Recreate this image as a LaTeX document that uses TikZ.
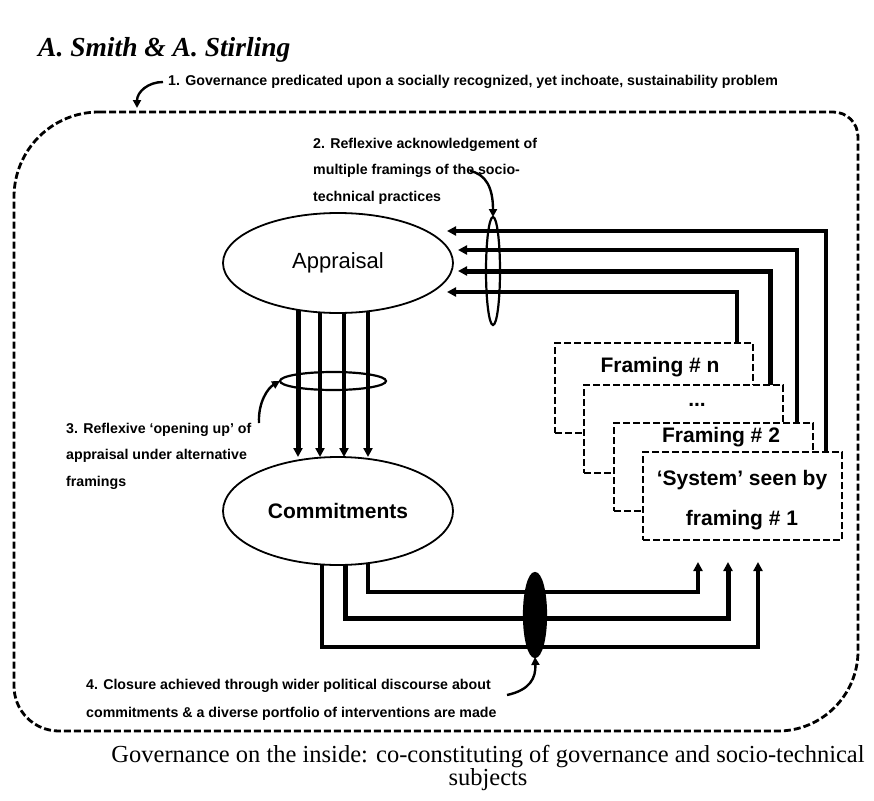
\documentclass[tikz,border=0pt]{standalone}
\usepackage{fontspec}
\setmainfont{Liberation Serif}
\setsansfont{Liberation Sans}
\usetikzlibrary{arrows.meta,shapes.geometric,calc}
\pgfdeclarelayer{bg}
\pgfsetlayers{bg,main}

\begin{document}
\begin{tikzpicture}[x=1pt,y=-1pt,
  conn/.style={line width=3.2pt,-{Triangle[width=9pt,length=9pt]}},
  link/.style={line width=3.2pt},
  heavy/.style={line width=5pt},
  frame/.style={line width=2.8pt,dash pattern=on 7pt off 3pt},
  framebox/.style={draw,fill=white,rectangle,line width=2.6pt,dash pattern=on 7pt off 3pt,
    anchor=north west,inner sep=0pt,outer sep=0pt},
  hub/.style={draw,fill=white,ellipse,line width=1.8pt,inner sep=0pt,outer sep=0pt,
    minimum width=230pt},
  ring/.style={draw,ellipse,line width=2.2pt,inner sep=0pt,outer sep=0pt},
  pointer/.style={line width=2.4pt,-{Triangle[width=8pt,length=8pt]}},
  note/.style={font=\sffamily\bfseries\fontsize{14.2}{26.5}\selectfont,align=left,inner sep=0pt},
  boxtext/.style={font=\sffamily\bfseries\fontsize{21}{24}\selectfont,inner sep=0pt},
]
\useasboundingbox (0,0) rectangle (874,800);

% header and caption
\node[font=\bfseries\itshape\fontsize{27.5}{30}\selectfont,anchor=west,inner sep=0pt] (hdr) at (38,50) {A. Smith \& A. Stirling};
\node[font=\fontsize{24.5}{22}\selectfont,align=center,inner sep=0pt] (cap) at (488,768)
  {Governance on the inside: co-constituting of governance and socio-technical\\subjects};

% outer dashed boundary
\draw[frame] (99,112) -- (833,112) .. controls (847,112) and (858,123) .. (858,137)
  -- (858,651) .. controls (858,695) and (822,731) .. (778,731)
  -- (59,731) .. controls (34,731) and (14,711) .. (14,686)
  -- (14,197) .. controls (14,150) and (52,112) .. (99,112) -- cycle;

% central ellipses
\node[hub,minimum height=100pt,font=\sffamily\fontsize{22}{24}\selectfont] (app) at (338,263) {Appraisal};
\node[hub,minimum height=108pt,font=\sffamily\bfseries\fontsize{21}{24}\selectfont] (com) at (338,511) {Commitments};

% framing boxes, back to front
\node[framebox,minimum width=198pt,minimum height=90pt] (fn) at (555,343) {};
\node[framebox,minimum width=199pt,minimum height=88pt] (fd) at (584,385) {};
\node[framebox,minimum width=199pt,minimum height=88pt] (f2) at (614,423) {};
\node[framebox,minimum width=199pt,minimum height=88pt] (f1) at (643,452) {};
\node[boxtext] (ln) at (660,367) {Framing \# n};
\node[boxtext,anchor=base] (ld) at (697,406) {...};
\node[boxtext] (l2) at (721,437) {Framing \# 2};
\node[boxtext] (l1a) at (742,480) {`System' seen by};
\node[boxtext] (l1b) at (742,520) {framing \# 1};

% arrow end points
\coordinate (a1) at (447,231);
\coordinate (a2) at (458,250);
\coordinate (a3) at (458,271);
\coordinate (a4) at (447,292);
\coordinate (e1) at (698,562);
\coordinate (e2) at (728,562);
\coordinate (e3) at (758,562);

\begin{pgfonlayer}{bg}
  % framings feeding back into appraisal
  \draw[conn] ($(f1.north west)+(183,0)$) |- (a1);
  \draw[conn] ($(f2.north west)+(183,0)$) |- (a2);
  \draw[conn,heavy] ($(fd.north west)+(186,0)$) |- (a3);
  \draw[conn] ($(fn.north west)+(182,0)$) |- (a4);
  % appraisal opened up into commitments
  \draw[conn,heavy] ($(app.center)+(-40,0)$) -- ($(com.north)+(-40,0)$);
  \draw[conn] ($(app.center)+(-18,0)$) -- ($(com.north)+(-18,0)$);
  \draw[conn] ($(app.center)+(6,0)$) -- ($(com.north)+(6,0)$);
  \draw[conn] ($(app.center)+(30,0)$) -- ($(com.north)+(30,0)$);
  % commitments acting on the framed systems
  \draw[conn] ($(com.center)+(30,0)$) -- ++(0,81) -| (e1);
  \draw[conn,heavy] ($(com.center)+(7,0)$) -- ++(0,107) -| (e2);
  \draw[conn] ($(com.center)+(-16,0)$) -- ++(0,136) -| (e3);
\end{pgfonlayer}

% bundling rings
\node[ring,minimum width=14pt,minimum height=108pt] (rg2) at (493,271) {};
\node[ring,minimum width=106pt,minimum height=18pt] (rg3) at (333,381) {};
\node[ring,fill=black,minimum width=22pt,minimum height=84pt] (rg4) at (535,615) {};

% annotations
\node[note,anchor=west] (t1) at (168,82)
  {1. Governance predicated upon a socially recognized, yet inchoate, sustainability problem};
\node[note,anchor=north west] (t2) at (313,138)
  {2. Reflexive acknowledgement of\\multiple framings of the socio-\\technical practices};
\node[note,anchor=north west] (t3) at (66,423)
  {3. Reflexive `opening up' of\\appraisal under alternative\\framings};
\node[note,anchor=north west,font=\sffamily\bfseries\fontsize{14.2}{28}\selectfont] (t4) at (86,679)
  {4. Closure achieved through wider political discourse about\\commitments \& a diverse portfolio of interventions are made};

\coordinate (c1) at (137,108);
\coordinate (s2) at (470,171);
\coordinate (s3) at (259,423);
\coordinate (s4) at (507,695);
\draw[pointer] ($(t1.west)+(-5,0)$) .. controls (148,82) and (137,92) .. (c1);
\draw[pointer] (s2) .. controls (486,174) and (493,188) .. (rg2.north);
\draw[pointer] (s3) .. controls (258,402) and (268,388) .. (rg3.west);
\draw[pointer] (s4) .. controls (530,690) and (536,678) .. (rg4.south);
\end{tikzpicture}
\end{document}
